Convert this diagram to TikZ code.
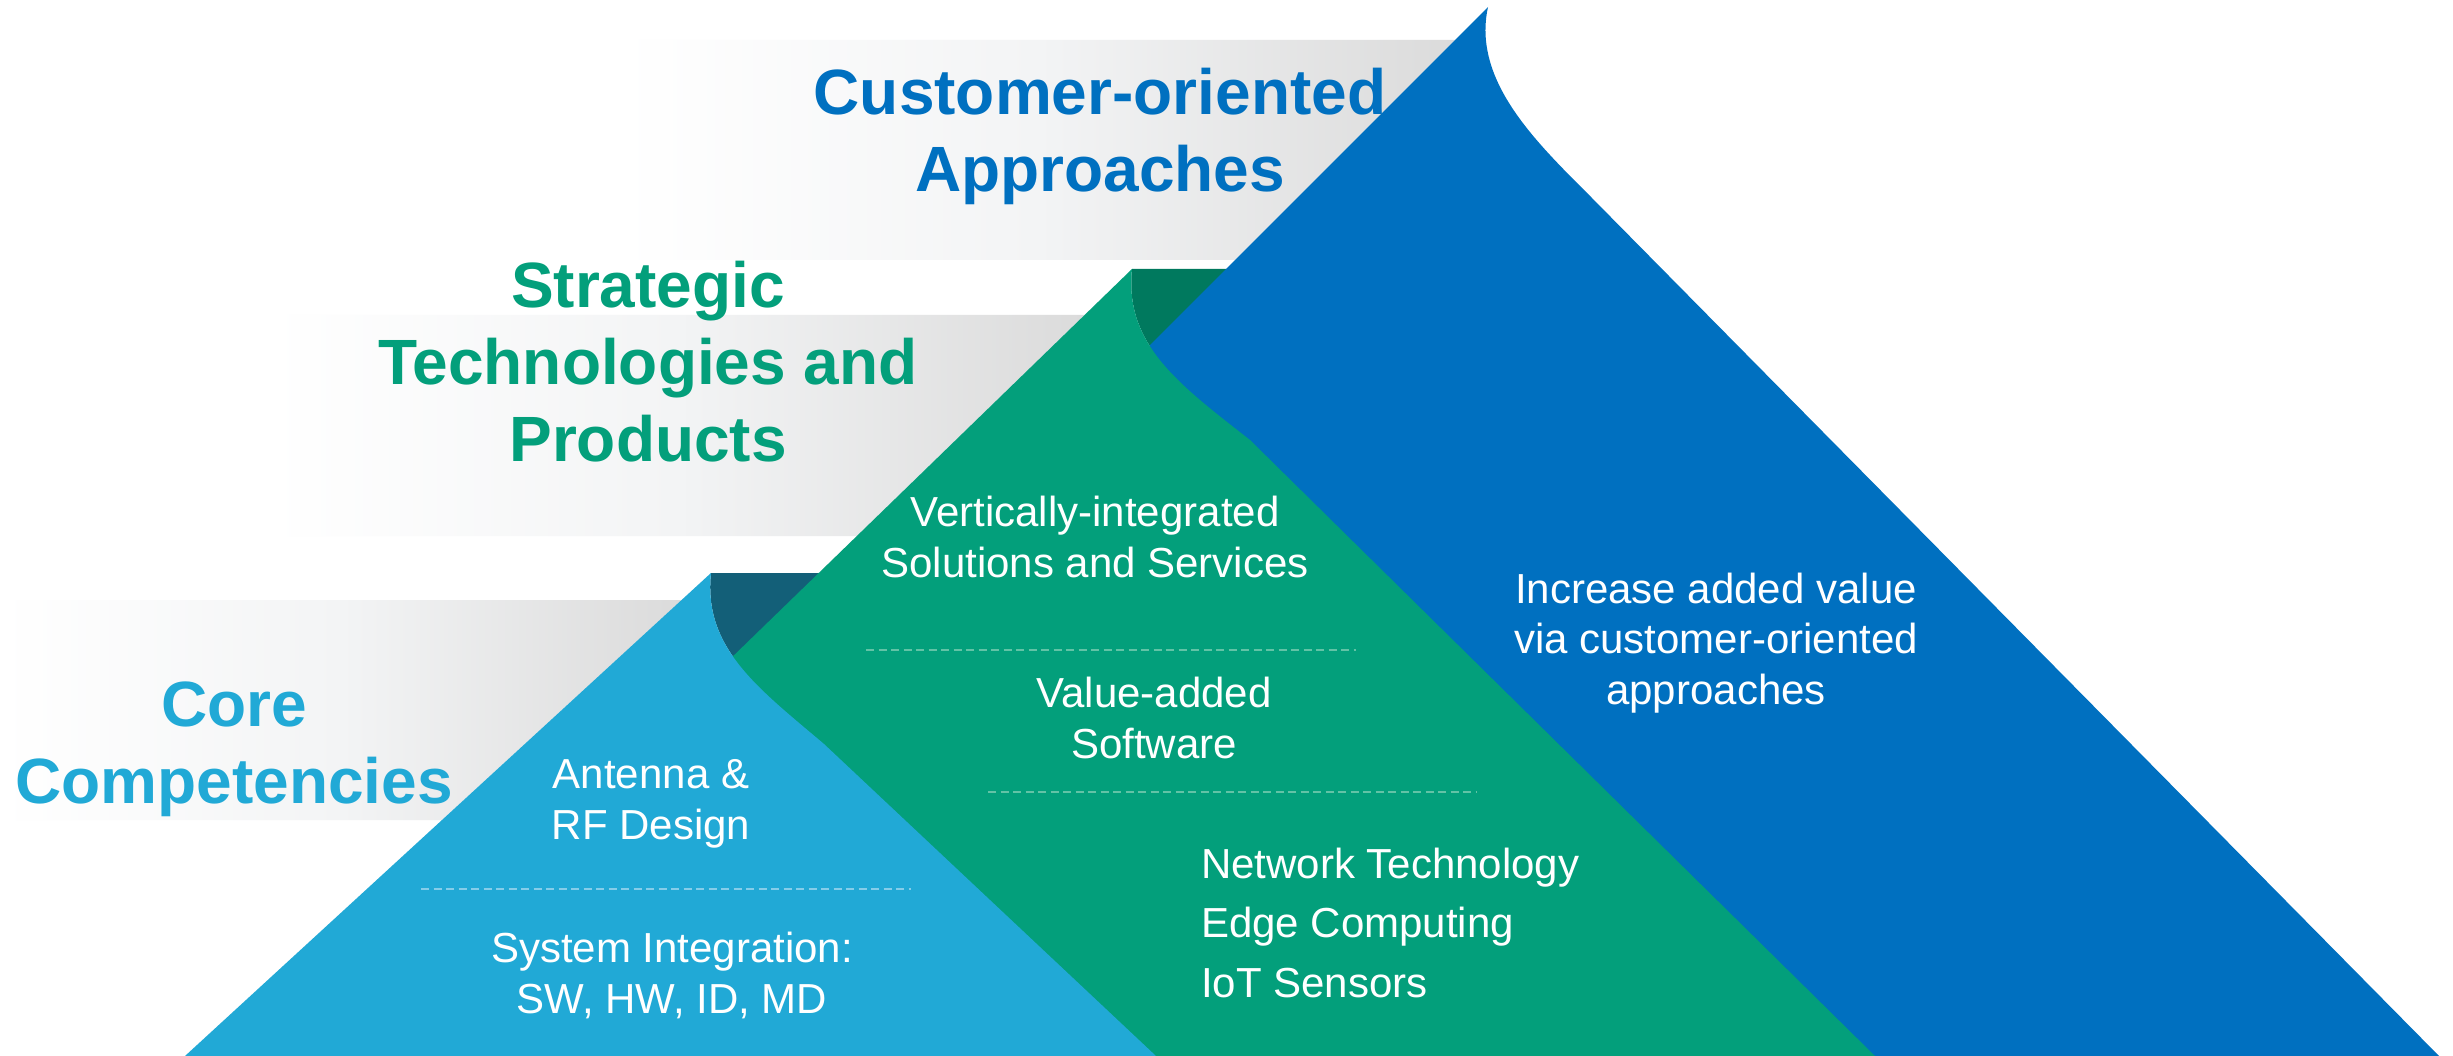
\documentclass[tikz,border=0pt]{standalone}
\usepackage{fontspec}
\setmainfont{Liberation Sans}
\definecolor{cblue}{HTML}{0070C0}
\definecolor{cgreen}{HTML}{039F7B}
\definecolor{cdkgreen}{HTML}{00795E}
\definecolor{clblue}{HTML}{21A9D6}
\definecolor{cteal}{HTML}{135F78}
\definecolor{bandmid}{HTML}{F3F4F5}
\definecolor{bandgray}{HTML}{DBDBDB}
\definecolor{dashlb}{HTML}{86CDE9}
\definecolor{dashgr}{HTML}{62C3A6}
\begin{document}
\begin{tikzpicture}[x=1pt,y=-1pt,
  title/.style={font=\bfseries\fontsize{64}{77}\selectfont, align=center, inner sep=0pt, anchor=base},
  body/.style={text=white, font=\fontsize{42}{50.5}\selectfont, align=center, inner sep=0pt, anchor=base},
  band/.style={left color=white, right color=bandgray, middle color=bandmid},
  sepline/.style={line width=2pt, dash pattern=on 8pt off 4.5pt}]
\useasboundingbox (0,0) rectangle (2453,1056);
\fill[white] (0,0) rectangle (2453,1056);
% gray bands
\shade[band] (620,40) -- (1455,40) -- (1235,260) -- (620,260) -- cycle;
\shade[band] (270,315) -- (1085,315) -- (857,536) -- (270,536) -- cycle;
\shade[band] (0,600) -- (682,600) -- (442,820) -- (0,820) -- cycle;
% folds (back sides of the curled tips)
\fill[cteal] (711,573) .. controls (703,648) and (758,688) .. (824,744) -- (870,744) -- (870,573) -- cycle;
\fill[cdkgreen] (1132,269) .. controls (1124,345) and (1180,385) .. (1250,440) -- (1330,440) -- (1330,269) -- cycle;
% blue page
\fill[cblue] (1488,7) .. controls (1472,80) and (1535,141) .. (1590,196) -- (2439,1056) -- (439,1056) -- cycle;
% green page
\fill[cgreen] (1132,269) .. controls (1124,345) and (1180,385) .. (1250,440) -- (1875,1056) -- (321,1056) -- cycle;
% light blue page
\fill[clblue] (711,573) .. controls (703,648) and (758,688) .. (824,744) -- (1156,1056) -- (185,1056) -- cycle;
% separators
\coordinate (g1a) at (866,650); \coordinate (g1b) at (1356,650);
\coordinate (g2a) at (988,792); \coordinate (g2b) at (1476,792);
\coordinate (l1a) at (421,889); \coordinate (l1b) at (911,889);
\draw[sepline, dashgr] (g1a) -- (g1b);
\draw[sepline, dashgr] (g2a) -- (g2b);
\draw[sepline, dashlb] (l1a) -- (l1b);
% titles (anchored at the baseline of the last line)
\node[title, text=cblue] (cust) at (1100,192) {Customer-oriented\\Approaches};
\node[title, text=cgreen] (strat) at (648,461) {Strategic\\Technologies and\\Products};
\node[title, text=clblue] (core) at (234,803) {Core\\Competencies};
% body texts
\node[body] (ant) at (651,839) {Antenna \&\\RF Design};
\node[body] (sys) at (672,1013) {System Integration:\\SW, HW, ID, MD};
\node[body] (vert) at (1095,577) {Vertically-integrated\\Solutions and Services};
\node[body] (val) at (1154,758) {Value-added\\Software};
\node[body, align=left, anchor=base west, font=\fontsize{42}{59.5}\selectfont] (net) at (1201,997) {Network Technology\\Edge Computing\\IoT Sensors};
\node[body] (inc) at (1716,704) {Increase added value\\via customer-oriented\\approaches};
\end{tikzpicture}
\end{document}
